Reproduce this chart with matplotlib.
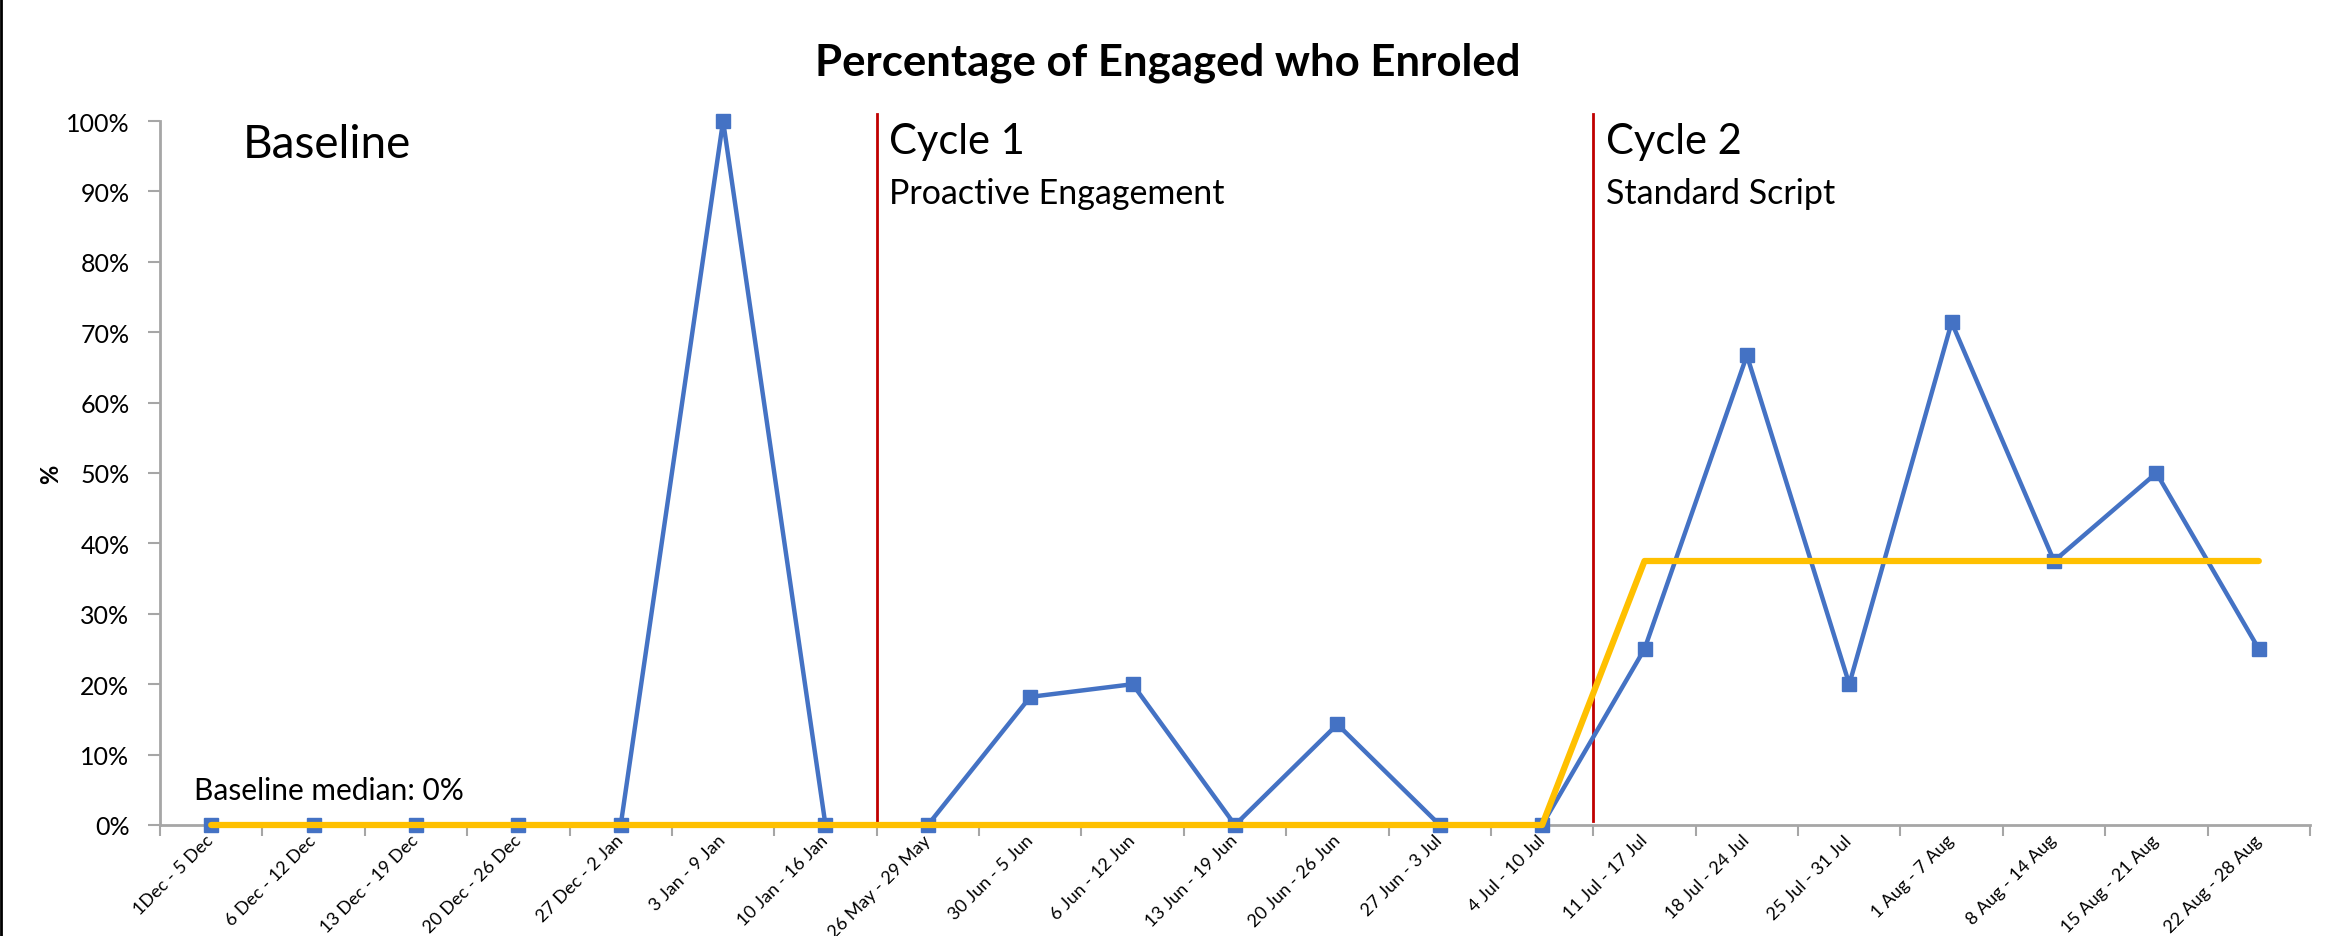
import matplotlib
matplotlib.use("Agg")
import matplotlib.pyplot as plt
from matplotlib.lines import Line2D

plt.rcParams['font.family'] = ['Lato', 'DejaVu Sans']

# Weekly periods
weeks = ["1Dec - 5 Dec", "6 Dec - 12 Dec", "13 Dec - 19 Dec", "20 Dec - 26 Dec",
         "27 Dec - 2 Jan", "3 Jan - 9 Jan", "10 Jan - 16 Jan", "26 May - 29 May",
         "30 Jun - 5 Jun", "6 Jun - 12 Jun", "13 Jun - 19 Jun", "20 Jun - 26 Jun",
         "27 Jun - 3 Jul", "4 Jul - 10 Jul", "11 Jul - 17 Jul", "18 Jul - 24 Jul",
         "25 Jul - 31 Jul", "1 Aug - 7 Aug", "8 Aug - 14 Aug", "15 Aug - 21 Aug",
         "22 Aug - 28 Aug"]

# Percentage of engaged who enroled
pct = [0, 0, 0, 0, 0, 1.0, 0, 0, 0.182, 0.20, 0, 0.143, 0, 0,
       0.25, 0.667, 0.20, 0.714, 0.375, 0.50, 0.25]

# Median line
median = [0] * 14 + [0.375] * 7

# Cycle boundaries (between categories)
cycle_starts = [6.5, 13.5]

x = list(range(len(weeks)))

fig = plt.figure(figsize=(23.35, 9.37), dpi=100)
ax = fig.add_axes([160 / 2335, 1 - 826 / 937, 2150 / 2335, 704 / 937])

ax.plot(x, pct, color="#4472c4", lw=3.2, marker="s", markersize=10,
        zorder=3, clip_on=False)
ax.plot(x, median, color="#ffc000", lw=4.5, zorder=4, solid_capstyle="round",
        clip_on=False)
for c in cycle_starts:
    ax.plot([c, c], [0.005, 1.01], color="#c00000", lw=2, zorder=2,
            clip_on=False)

ax.set_xlim(-0.5, len(weeks) - 0.5)
ax.set_ylim(0, 1)
ax.set_yticks([i / 10 for i in range(11)])
ax.set_yticklabels([f"{i * 10}%" for i in range(11)], fontsize=18)
ax.set_xticks(x)
ax.set_xticklabels(weeks, rotation=45, ha="right", va="center",
                   rotation_mode="anchor", fontsize=13)
ax.set_xticks([i - 0.5 for i in range(len(weeks) + 1)], minor=True)
ax.tick_params(axis="x", which="major", length=0, pad=9)
ax.tick_params(axis="x", which="minor", length=8, color="#a6a6a6", width=1.5)
ax.tick_params(axis="y", length=9, color="#a6a6a6", width=1.5, pad=13)

for s in ["top", "right"]:
    ax.spines[s].set_visible(False)
for s in ["left", "bottom"]:
    ax.spines[s].set_color("#a6a6a6")
    ax.spines[s].set_linewidth(2)

ax.set_ylabel("%", fontsize=17, fontweight="bold")
ax.yaxis.set_label_coords((62 - 160) / 2150, 0.5)

fig.text(0.5, 0.933, "Percentage of Engaged who Enroled", fontsize=31.5,
         fontweight="bold", ha="center", va="center")

xt = ax.get_xaxis_transform()
ax.text(0.31, 0.967, "Baseline", fontsize=33, va="center", ha="left",
        transform=xt)
ax.text(6.62, 0.971, "Cycle 1", fontsize=30, va="center", ha="left",
        transform=xt)
ax.text(6.62, 0.898, "Proactive Engagement", fontsize=24.5, va="center",
        ha="left", transform=xt)
ax.text(13.62, 0.971, "Cycle 2", fontsize=30, va="center", ha="left",
        transform=xt)
ax.text(13.62, 0.898, "Standard Script", fontsize=24.5, va="center",
        ha="left", transform=xt)
ax.text(-0.17, 0.05, "Baseline median: 0%", fontsize=21.5, va="center",
        ha="left", transform=xt)

fig.add_artist(Line2D([0.0006, 0.0006], [0, 1], color="black", lw=2,
                      transform=fig.transFigure))

fig.savefig("out.png", dpi=100)
